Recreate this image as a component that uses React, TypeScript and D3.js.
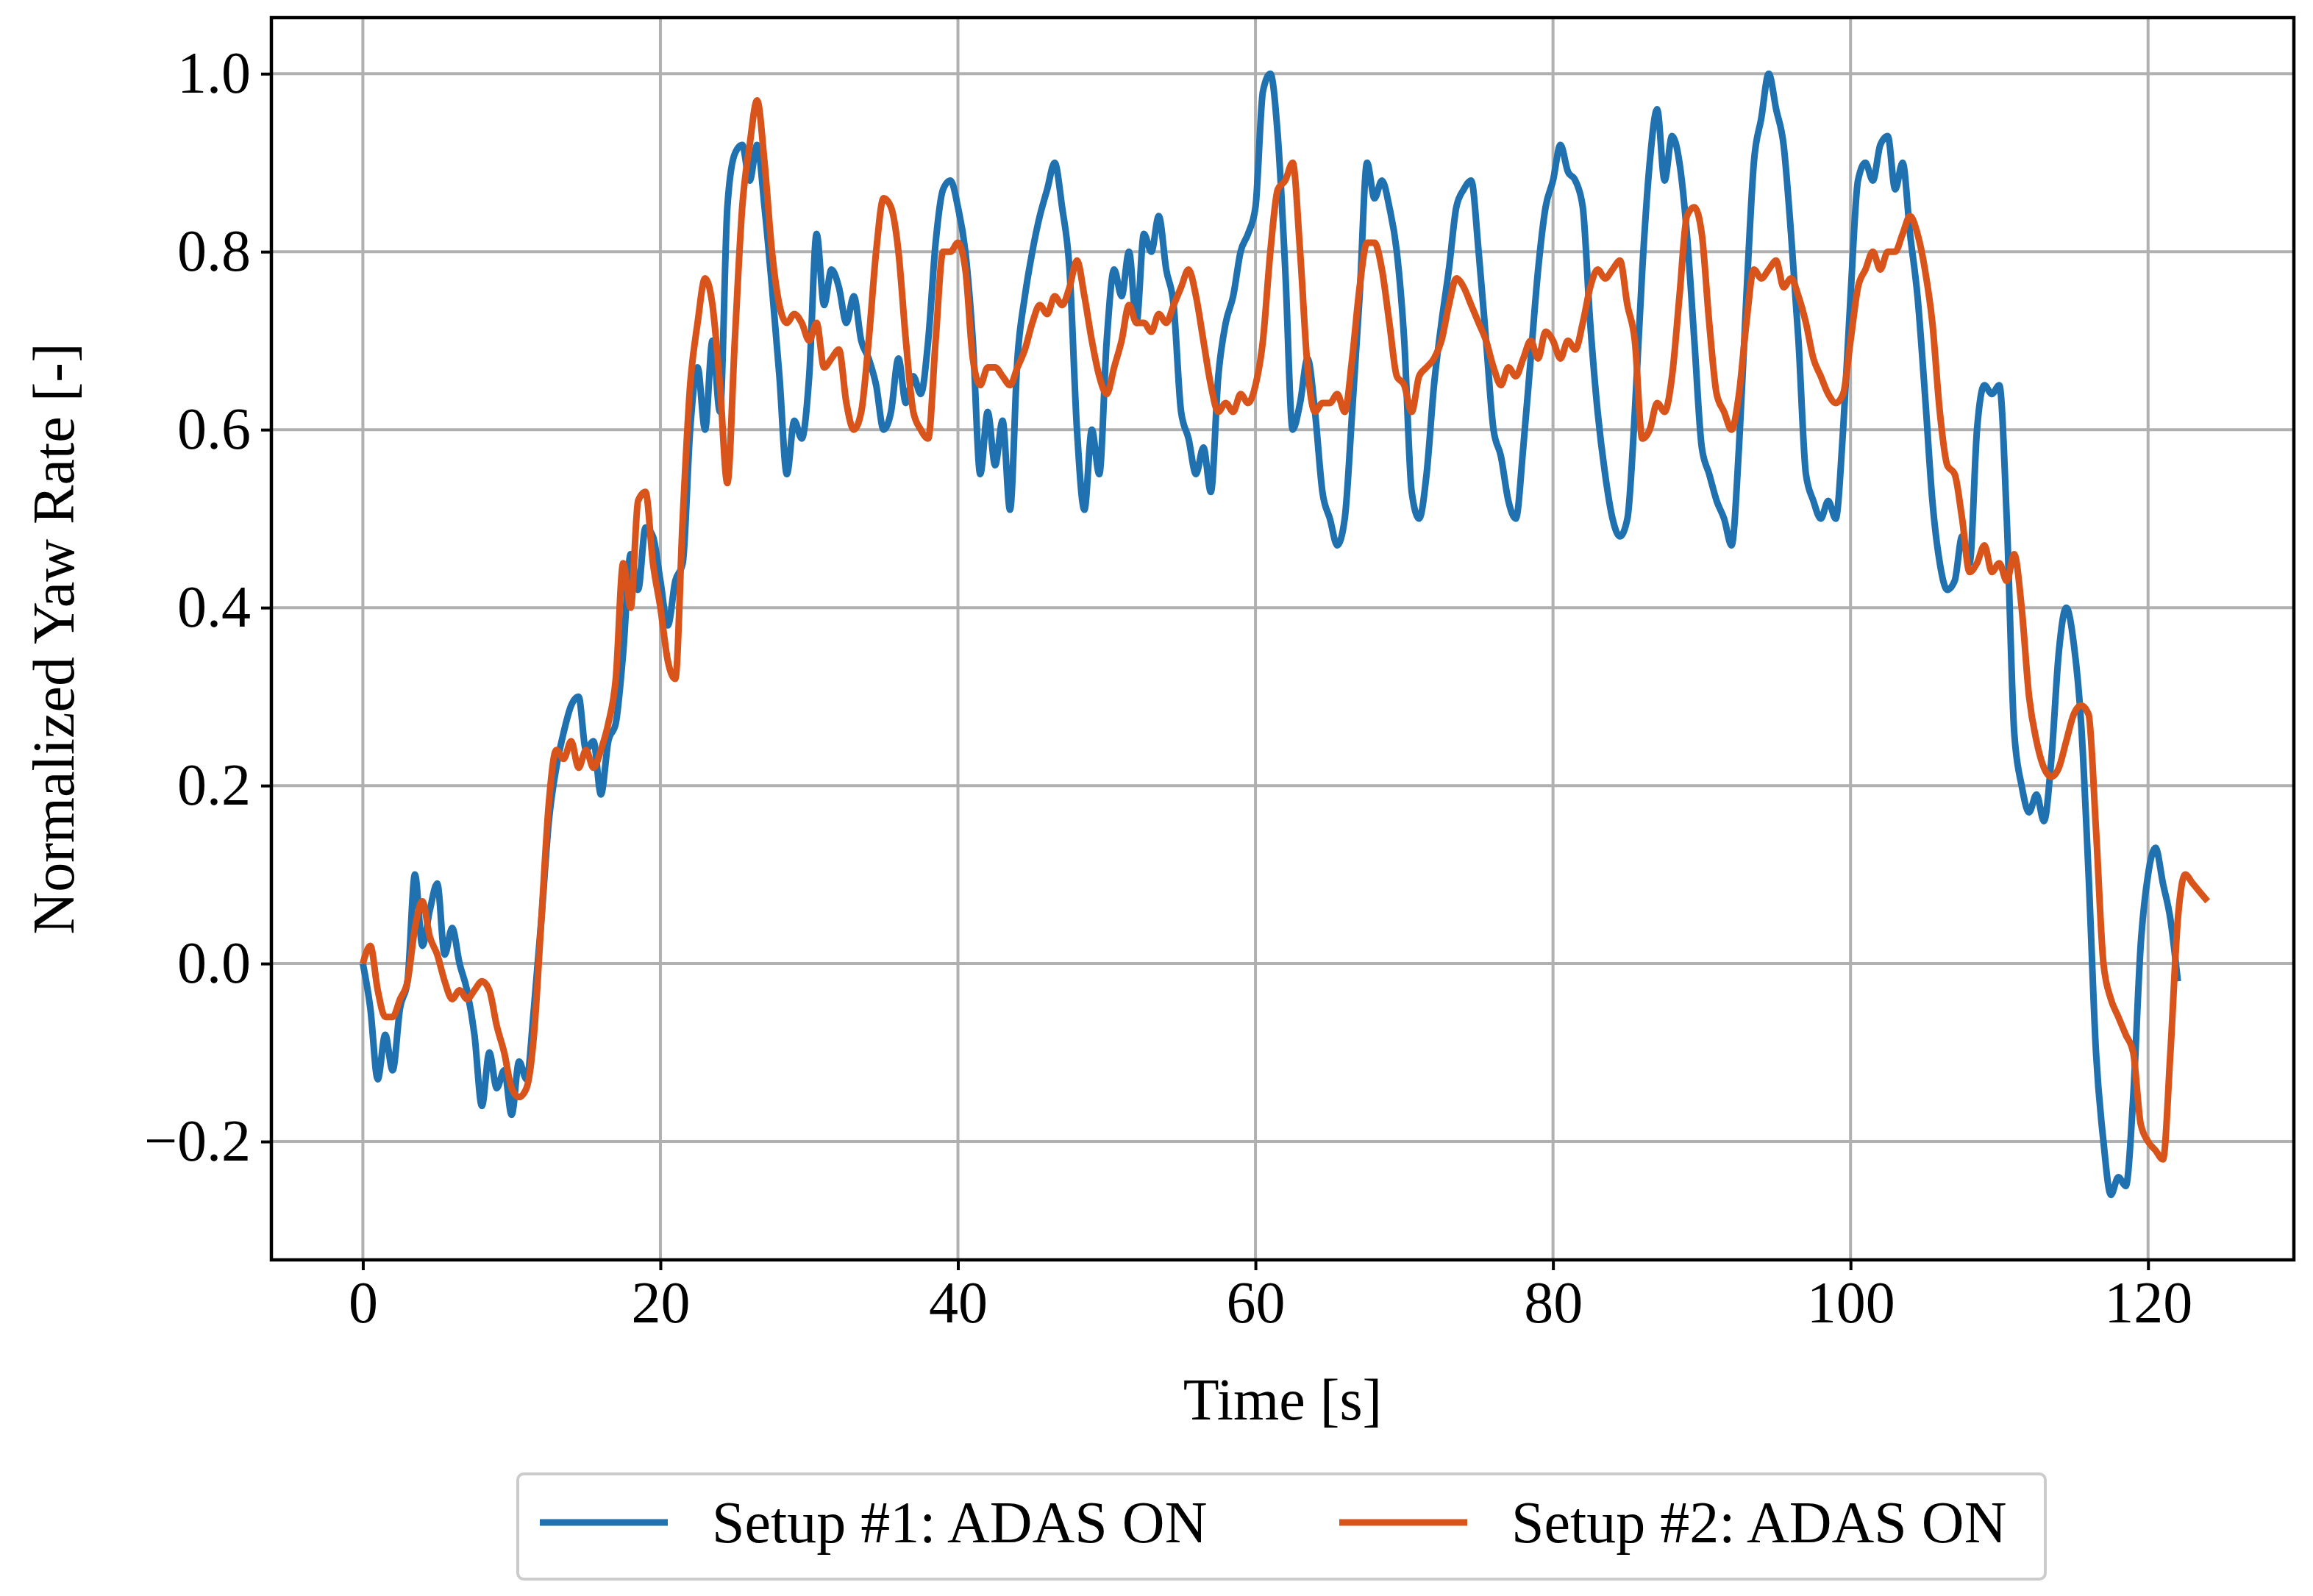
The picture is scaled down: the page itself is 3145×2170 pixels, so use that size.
import { useEffect, useRef } from 'react';
import * as d3 from 'd3';

const W = 3145;
const H = 2170;
const [mt, mr, mb, ml] = [24, 26, 457, 369];

const step = 0.5;

// Setup #1 yaw rate, one sample every 0.5 s from t = 0
const setup1 = [
    0, -0.05, -0.13, -0.08, -0.12, -0.05, -0.02, 0.1, 0.02, 0.06, 0.09, 0.01, 0.04, 0.0, -0.03, -0.08, -0.16, -0.1, -0.14, -0.12,
    -0.17, -0.11, -0.13, -0.05, 0.05, 0.16, 0.22, 0.26, 0.29, 0.3, 0.24, 0.25, 0.19, 0.25, 0.27, 0.35, 0.46, 0.42, 0.49, 0.48,
    0.43, 0.38, 0.43, 0.45, 0.6, 0.67, 0.6, 0.7, 0.62, 0.85, 0.91, 0.92, 0.88, 0.92, 0.85, 0.76, 0.66, 0.55, 0.61, 0.59,
    0.66, 0.82, 0.74, 0.78, 0.76, 0.72, 0.75, 0.7, 0.68, 0.65, 0.6, 0.62, 0.68, 0.63, 0.66, 0.64, 0.7, 0.81, 0.87, 0.88,
    0.85, 0.8, 0.7, 0.55, 0.62, 0.56, 0.61, 0.51, 0.68, 0.75, 0.8, 0.84, 0.87, 0.9, 0.85, 0.78, 0.6, 0.51, 0.6, 0.55,
    0.7, 0.78, 0.75, 0.8, 0.72, 0.82, 0.8, 0.84, 0.78, 0.74, 0.62, 0.59, 0.55, 0.58, 0.53, 0.66, 0.72, 0.75, 0.8, 0.82,
    0.85, 0.98, 1.0, 0.93, 0.78, 0.6, 0.63, 0.68, 0.62, 0.53, 0.5, 0.47, 0.5, 0.62, 0.75, 0.9, 0.86, 0.88, 0.85, 0.8,
    0.7, 0.53, 0.5, 0.55, 0.65, 0.72, 0.78, 0.85, 0.87, 0.88, 0.8, 0.7, 0.6, 0.57, 0.52, 0.5, 0.58, 0.68, 0.78, 0.85,
    0.88, 0.92, 0.89, 0.88, 0.85, 0.72, 0.62, 0.55, 0.5, 0.48, 0.5, 0.62, 0.78, 0.9, 0.96, 0.88, 0.93, 0.9, 0.82, 0.7,
    0.58, 0.55, 0.52, 0.5, 0.47, 0.58, 0.75, 0.9, 0.95, 1.0, 0.96, 0.92, 0.82, 0.7, 0.55, 0.52, 0.5, 0.52, 0.5, 0.6,
    0.75, 0.88, 0.9, 0.88, 0.92, 0.93, 0.87, 0.9, 0.82, 0.75, 0.64, 0.52, 0.45, 0.42, 0.43, 0.48, 0.45, 0.6, 0.65, 0.64,
    0.65, 0.5, 0.26, 0.2, 0.17, 0.19, 0.16, 0.23, 0.35, 0.4, 0.36, 0.27, 0.1, -0.1, -0.2, -0.26, -0.24, -0.25, -0.15, 0.02,
    0.1, 0.13, 0.09, 0.05, -0.02
];

// Setup #2 yaw rate, one sample every 0.5 s from t = 0
const setup2 = [
    0, 0.02, -0.03, -0.06, -0.06, -0.04, -0.02, 0.04, 0.07, 0.03, 0.01, -0.02, -0.04, -0.03, -0.04, -0.03, -0.02, -0.03, -0.07, -0.1,
    -0.14, -0.15, -0.14, -0.08, 0.05, 0.18, 0.24, 0.23, 0.25, 0.22, 0.24, 0.22, 0.24, 0.27, 0.32, 0.45, 0.4, 0.52, 0.53, 0.45,
    0.4, 0.34, 0.32, 0.5, 0.65, 0.72, 0.77, 0.74, 0.65, 0.54, 0.7, 0.85, 0.92, 0.97, 0.9, 0.8, 0.74, 0.72, 0.73, 0.72,
    0.7, 0.72, 0.67, 0.68, 0.69, 0.63, 0.6, 0.62, 0.7, 0.8, 0.86, 0.85, 0.8, 0.7, 0.62, 0.6, 0.59, 0.7, 0.8, 0.8,
    0.81, 0.78, 0.68, 0.65, 0.67, 0.67, 0.66, 0.65, 0.67, 0.69, 0.72, 0.74, 0.73, 0.75, 0.74, 0.76, 0.79, 0.75, 0.7, 0.66,
    0.64, 0.67, 0.7, 0.74, 0.72, 0.72, 0.71, 0.73, 0.72, 0.74, 0.76, 0.78, 0.75, 0.7, 0.65, 0.62, 0.63, 0.62, 0.64, 0.63,
    0.65, 0.7, 0.8, 0.87, 0.88, 0.9, 0.8, 0.67, 0.62, 0.63, 0.63, 0.64, 0.62, 0.68, 0.76, 0.81, 0.81, 0.78, 0.72, 0.66,
    0.65, 0.62, 0.66, 0.67, 0.68, 0.7, 0.74, 0.77, 0.76, 0.74, 0.72, 0.7, 0.67, 0.65, 0.67, 0.66, 0.68, 0.7, 0.68, 0.71,
    0.7, 0.68, 0.7, 0.69, 0.72, 0.76, 0.78, 0.77, 0.78, 0.79, 0.74, 0.7, 0.59, 0.6, 0.63, 0.62, 0.66, 0.75, 0.84, 0.85,
    0.82, 0.72, 0.64, 0.62, 0.6, 0.64, 0.72, 0.78, 0.77, 0.78, 0.79, 0.76, 0.77, 0.75, 0.72, 0.68, 0.66, 0.64, 0.63, 0.64,
    0.7, 0.76, 0.78, 0.8, 0.78, 0.8, 0.8, 0.82, 0.84, 0.82, 0.78, 0.72, 0.62, 0.56, 0.55, 0.5, 0.44, 0.45, 0.47, 0.44,
    0.45, 0.43, 0.46, 0.4, 0.3, 0.25, 0.22, 0.21, 0.22, 0.25, 0.28, 0.29, 0.28, 0.15, 0.0, -0.04, -0.06, -0.08, -0.1, -0.18,
    -0.2, -0.21, -0.22, -0.1, 0.05, 0.1, 0.09, 0.08, 0.07
];

const xTicks = [0, 20, 40, 60, 80, 100, 120];
const yTicks = [-0.2, 0, 0.2, 0.4, 0.6, 0.8, 1.0];
const seriesNames = ['Setup #1: ADAS ON', 'Setup #2: ADAS ON'];
const colors = ['#1f71b0', '#d9541a'];

const font = '"Liberation Serif", "DejaVu Serif", serif';

export default function App() {
    const ref = useRef<SVGSVGElement>(null);

    useEffect(() => {
        const svg = d3.select(ref.current);
        svg.selectAll('*').remove();

        const x = d3.scaleLinear().domain([-6.15, 129.8]).range([ml, W - mr]);
        const y = d3.scaleLinear().domain([-0.333, 1.063]).range([H - mb, mt]);

        // grid
        const grid = svg.append('g').attr('stroke', '#b0b0b0').attr('stroke-width', 4);
        grid.selectAll('.gx')
            .data(xTicks)
            .join('line')
            .attr('x1', (d) => x(d))
            .attr('x2', (d) => x(d))
            .attr('y1', mt)
            .attr('y2', H - mb);
        grid.selectAll('.gy')
            .data(yTicks)
            .join('line')
            .attr('y1', (d) => y(d))
            .attr('y2', (d) => y(d))
            .attr('x1', ml)
            .attr('x2', W - mr);

        const line = d3
            .line<number>()
            .curve(d3.curveMonotoneX)
            .x((_, i) => x(i * step))
            .y((d) => y(d));

        [setup1, setup2].forEach((s, i) => {
            svg.append('path')
                .attr('d', line(s))
                .attr('fill', 'none')
                .attr('stroke', colors[i])
                .attr('stroke-width', 9)
                .attr('stroke-linejoin', 'round');
        });

        // frame
        svg.append('rect')
            .attr('x', ml)
            .attr('y', mt)
            .attr('width', W - mr - ml)
            .attr('height', H - mb - mt)
            .attr('fill', 'none')
            .attr('stroke', '#000')
            .attr('stroke-width', 4.5);

        const xAxis = d3.axisBottom(x).tickValues(xTicks).tickSize(14).tickPadding(14).tickFormat(d3.format('d'));
        const yAxis = d3
            .axisLeft(y)
            .tickValues(yTicks)
            .tickSize(14)
            .tickPadding(14)
            .tickFormat((d) => d3.format('.1f')(d as number).replace('-', '\u2212'));

        const gx = svg.append('g').attr('transform', `translate(0,${H - mb})`).call(xAxis);
        const gy = svg.append('g').attr('transform', `translate(${ml},0)`).call(yAxis);
        [gx, gy].forEach((g) => {
            g.select('.domain').remove();
            g.selectAll('line').attr('stroke-width', 4);
            g.selectAll('text').attr('font-family', font).attr('font-size', 80).attr('fill', '#000');
        });

        svg.append('text')
            .attr('x', (ml + W - mr) / 2)
            .attr('y', 1930)
            .attr('text-anchor', 'middle')
            .attr('font-family', font)
            .attr('font-size', 80)
            .text('Time [s]');

        svg.append('text')
            .attr('transform', `translate(100,${(mt + H - mb) / 2}) rotate(-90)`)
            .attr('text-anchor', 'middle')
            .attr('font-family', font)
            .attr('font-size', 80)
            .text('Normalized Yaw Rate [-]');

        // legend
        const lg = svg.append('g');
        lg.append('rect')
            .attr('x', 704)
            .attr('y', 2004)
            .attr('width', 2077)
            .attr('height', 143)
            .attr('rx', 8)
            .attr('fill', '#fff')
            .attr('stroke', '#cccccc')
            .attr('stroke-width', 4);
        seriesNames.forEach((name, i) => {
            const x0 = i === 0 ? 734 : 1821;
            lg.append('line')
                .attr('x1', x0)
                .attr('x2', x0 + 174)
                .attr('y1', 2070)
                .attr('y2', 2070)
                .attr('stroke', colors[i])
                .attr('stroke-width', 9);
            lg.append('text')
                .attr('x', x0 + 234)
                .attr('y', 2097)
                .attr('font-family', font)
                .attr('font-size', 80)
                .text(name);
        });
    }, []);

    return (
        <svg
            ref={ref}
            width={W}
            height={H}
            style={{ position: 'absolute', left: 0, top: 0, background: '#fff' }}
        />
    );
}
